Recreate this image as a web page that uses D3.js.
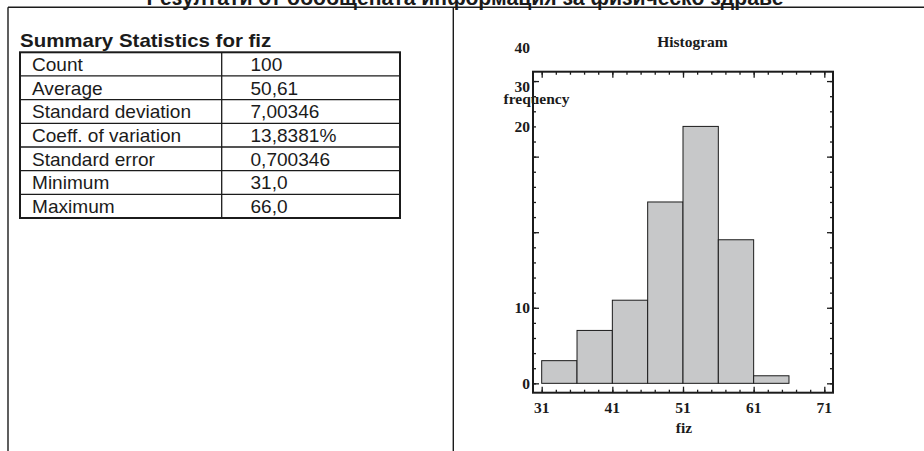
<!DOCTYPE html>
<html>
<head>
<meta charset="utf-8">
<script src="https://cdn.jsdelivr.net/npm/d3@7"></script>
<style>
  html, body { margin: 0; padding: 0; background: #fff; }
  svg { display: block; }
</style>
</head>
<body>
<svg id="chart" width="924" height="451"></svg>
<script>
// ---------- data ----------
const pageTitle = "Резултати от обобщената информация за физическо здраве";
const tableTitle = "Summary Statistics for fiz";
const statLabels = ["Count", "Average", "Standard deviation", "Coeff. of variation", "Standard error", "Minimum", "Maximum"];
const statValues = ["100", "50,61", "7,00346", "13,8381%", "0,700346", "31,0", "66,0"];

const histTitle = "Histogram";
const xLabel = "fiz";
const yLabel = "frequency";
const binStarts = [31, 36, 41, 46, 51, 56, 61];
const binWidth = 5;
const binCounts = [3, 7, 11, 24, 34, 19, 1];
const xMajorTicks = [31, 41, 51, 61, 71];
const xMinorTicks = d3.range(31, 72, 2);
const yMajorTicks = [0, 10, 20, 30, 40];
const yMinorTicks = d3.range(0, 41, 2);
const yTickLabels = ["0", "10", "20", "30", "40"];
// where each y label ends up in the picture (in frequency units)
const yTickLabelAt = [0, 10, 34, 39.2, 44.4];

// ---------- layout ----------
const svg = d3.select("#chart");
const ink = "#1b1b1b";

// page title (clipped at the top)
svg.append("text")
  .attr("x", 465).attr("y", 4.6)
  .attr("text-anchor", "middle")
  .attr("font-family", "Liberation Sans, Arial, sans-serif")
  .attr("font-weight", "bold").attr("font-size", 21.2)
  .attr("fill", ink)
  .text(pageTitle);

// frame lines
svg.append("line").attr("x1", 8).attr("x2", 924).attr("y1", 7.3).attr("y2", 7.3)
  .attr("stroke", ink).attr("stroke-width", 1.4);
svg.append("line").attr("x1", 8).attr("x2", 8).attr("y1", 7.3).attr("y2", 451)
  .attr("stroke", ink).attr("stroke-width", 1.4);
svg.append("line").attr("x1", 453.3).attr("x2", 453.3).attr("y1", 7.3).attr("y2", 451)
  .attr("stroke", ink).attr("stroke-width", 1.4);

// ---------- summary table ----------
const tLeft = 20, tRight = 400, tTop = 52.3, tBottom = 218, tDiv = 221.7;
const rowY = d3.scaleBand().domain(statLabels).range([tTop, tBottom]);
const sansFont = "Liberation Sans, Arial, sans-serif";

svg.append("text")
  .attr("transform", `translate(${tLeft},47) scale(1.17,1)`)
  .attr("font-family", sansFont).attr("font-weight", "bold").attr("font-size", 17.5)
  .attr("fill", ink).text(tableTitle);

const tg = svg.append("g");
tg.selectAll("line.row").data(statLabels.slice(1)).join("line")
  .attr("x1", tLeft).attr("x2", tRight)
  .attr("y1", d => rowY(d)).attr("y2", d => rowY(d))
  .attr("stroke", ink).attr("stroke-width", 1.3);
tg.append("line").attr("x1", tDiv).attr("x2", tDiv).attr("y1", tTop).attr("y2", tBottom)
  .attr("stroke", ink).attr("stroke-width", 1.3);
tg.append("rect").attr("x", tLeft).attr("y", tTop).attr("width", tRight - tLeft).attr("height", tBottom - tTop)
  .attr("fill", "none").attr("stroke", ink).attr("stroke-width", 2);

tg.selectAll("text.lab").data(statLabels).join("text")
  .attr("transform", d => `translate(32,${rowY(d) + rowY.bandwidth() / 2 + 7}) scale(1.09,1)`)
  .attr("font-family", sansFont).attr("font-size", 17.5).attr("fill", ink)
  .text(d => d);
tg.selectAll("text.val").data(statValues).join("text")
  .attr("transform", (d, i) => `translate(250.5,${rowY(statLabels[i]) + rowY.bandwidth() / 2 + 7}) scale(1.09,1)`)
  .attr("font-family", sansFont).attr("font-size", 17.5).attr("fill", ink)
  .text(d => d);

// ---------- histogram ----------
const serif = "Liberation Serif, Times New Roman, serif";
const x = d3.scaleLinear().domain([29.77, 72.23]).range([533, 833]);
const y = d3.scaleLinear().domain([-1.24, 41.24]).range([392.7, 71.7]);
const hg = svg.append("g");

// bars
hg.selectAll("rect.bar").data(binStarts).join("rect")
  .attr("x", d => x(d)).attr("width", d => x(d + binWidth) - x(d))
  .attr("y", (d, i) => y(binCounts[i])).attr("height", (d, i) => y(0) - y(binCounts[i]))
  .attr("fill", "#c7c8c9").attr("stroke", ink).attr("stroke-width", 1);

// axes (ticks pointing inward)
function addAxis(gen, tf) {
  const g = hg.append("g").attr("transform", tf).call(gen);
  g.select(".domain").remove();
  g.selectAll("text").remove();
  g.selectAll("line").attr("stroke", ink).attr("stroke-width", 1.3);
}
const [x0, x1] = x.range();
const [yb, yt] = y.range();
addAxis(d3.axisBottom(x).tickValues(xMinorTicks).tickSize(-3), `translate(0,${yb})`);
addAxis(d3.axisBottom(x).tickValues(xMajorTicks).tickSize(-6), `translate(0,${yb})`);
addAxis(d3.axisTop(x).tickValues(xMinorTicks).tickSize(-3), `translate(0,${yt})`);
addAxis(d3.axisTop(x).tickValues(xMajorTicks).tickSize(-6), `translate(0,${yt})`);
addAxis(d3.axisLeft(y).tickValues(yMinorTicks).tickSize(-3), `translate(${x0},0)`);
addAxis(d3.axisLeft(y).tickValues(yMajorTicks).tickSize(-6), `translate(${x0},0)`);
addAxis(d3.axisRight(y).tickValues(yMinorTicks).tickSize(-3), `translate(${x1},0)`);
addAxis(d3.axisRight(y).tickValues(yMajorTicks).tickSize(-6), `translate(${x1},0)`);

// plot frame
hg.append("rect").attr("x", x0).attr("y", yt).attr("width", x1 - x0).attr("height", yb - yt)
  .attr("fill", "none").attr("stroke", ink).attr("stroke-width", 2);

// tick labels
hg.selectAll("text.xl").data(xMajorTicks).join("text")
  .attr("x", d => x(d)).attr("y", 413.3)
  .attr("text-anchor", "middle")
  .attr("font-family", serif).attr("font-weight", "bold").attr("font-size", 15.5).attr("fill", ink)
  .text(d => d);
hg.selectAll("text.yl").data(yTickLabels).join("text")
  .attr("x", 530).attr("y", (d, i) => y(yTickLabelAt[i])).attr("dy", "0.34em")
  .attr("text-anchor", "end")
  .attr("font-family", serif).attr("font-weight", "bold").attr("font-size", 15.5).attr("fill", ink)
  .text(d => d);

// titles
hg.append("text").attr("x", 692.5).attr("y", 46.7).attr("text-anchor", "middle")
  .attr("font-family", serif).attr("font-weight", "bold").attr("font-size", 15.5).attr("fill", ink)
  .text(histTitle);
hg.append("text").attr("x", 536.5).attr("y", 104).attr("text-anchor", "middle")
  .attr("font-family", serif).attr("font-weight", "bold").attr("font-size", 15.5).attr("fill", ink)
  .text(yLabel);
hg.append("text").attr("x", 684).attr("y", 433.3).attr("text-anchor", "middle")
  .attr("font-family", serif).attr("font-weight", "bold").attr("font-size", 15.5).attr("fill", ink)
  .text(xLabel);
</script>
</body>
</html>
